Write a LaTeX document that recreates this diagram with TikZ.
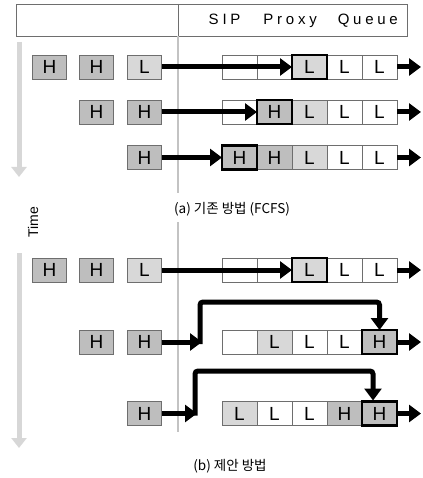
\documentclass[tikz,border=0pt]{standalone}
\usepackage{fontspec}
\setmainfont{Liberation Sans}
\newfontfamily\kr{Noto Sans CJK KR}
\newfontfamily\hdr[LetterSpace=25]{Liberation Sans}
\usetikzlibrary{arrows.meta}
\definecolor{hgray}{RGB}{190,190,190}
\definecolor{lgray}{RGB}{216,216,216}
\definecolor{bgray}{RGB}{110,110,110}
\definecolor{vgray}{RGB}{195,195,195}
\definecolor{tgray}{RGB}{215,215,215}
\tikzset{
  cell/.style={draw=bgray, line width=0.8pt, minimum width=35pt, minimum height=24pt, inner sep=0pt, outer sep=0pt, font=\fontsize{19}{19}\selectfont},
  sbox/.style={cell, minimum width=34pt},
  hf/.style={fill=hgray},
  lf/.style={fill=lgray},
  hot/.style={draw=black, line width=2.6pt},
  flow/.style={line width=5pt, -{Triangle[length=12pt,width=17pt]}},
  detour/.style={line width=5pt, rounded corners=3pt, -{Triangle[length=12pt,width=17pt]}},
  timearr/.style={draw=tgray, line width=5pt, -{Triangle[length=10pt,width=15pt]}},
  divider/.style={draw=vgray, line width=2pt},
  captext/.style={font=\kr\fontsize{13.5}{13.5}\selectfont}
}
\begin{document}
\begin{tikzpicture}[x=1pt,y=-1pt]
\useasboundingbox (0,0) rectangle (422,478);
% header
\draw[draw=bgray, line width=0.8pt] (16,4) rectangle (407,36);
\draw[draw=bgray, line width=0.8pt] (178,4) -- (178,36);
\node[anchor=east, inner sep=0pt, font=\hdr\fontsize{15}{15}\selectfont] (hdr) at (398,21) {SIP\hspace{23pt}Proxy\hspace{21pt}Queue};
% dividers and time arrows
\coordinate (d1) at (178,36); \coordinate (d2) at (178,193);
\coordinate (d3) at (178,222); \coordinate (d4) at (178,432);
\draw[divider] (d1) -- (d2);
\draw[divider] (d3) -- (d4);
\coordinate (t1) at (19,42); \coordinate (t2) at (19,177);
\coordinate (t3) at (19,253); \coordinate (t4) at (19,448);
\draw[timearr] (t1) -- (t2);
\draw[timearr] (t3) -- (t4);
\node[rotate=90, inner sep=0pt, font=\fontsize{14}{14}\selectfont] (time) at (33,222) {Time};

% ---------- (a) row 1
\node[sbox,hf] (a1h1) at (49.5,67) {H};
\node[sbox,hf] (a1h2) at (96.5,67) {H};
\node[sbox,lf] (a1l)  at (144.5,67) {L};
\node[cell] (a1q1) at (239.5,67) {};
\node[cell] (a1q2) at (274.5,67) {};
\node[cell] (a1q4) at (344.5,67) {L};
\node[cell] (a1q5) at (379.5,67) {L};
\node[cell,lf,hot] (a1q3) at (309.5,67) {L};
\coordinate (a1o) at (421,67);
\draw[flow] (a1l.east) -- (a1q3.west);
\draw[flow] (a1q5.east) -- (a1o);
% (a) row 2
\node[sbox,hf] (a2h1) at (96.5,112) {H};
\node[sbox,hf] (a2h2) at (144.5,112) {H};
\node[cell] (a2q1) at (239.5,112) {};
\node[cell,lf] (a2q3) at (309.5,112) {L};
\node[cell] (a2q4) at (344.5,112) {L};
\node[cell] (a2q5) at (379.5,112) {L};
\node[cell,hf,hot] (a2q2) at (274.5,112) {H};
\coordinate (a2o) at (421,112);
\draw[flow] (a2h2.east) -- (a2q2.west);
\draw[flow] (a2q5.east) -- (a2o);
% (a) row 3
\node[sbox,hf] (a3h1) at (144.5,157.5) {H};
\node[cell,hf] (a3q2) at (274.5,157.5) {H};
\node[cell,lf] (a3q3) at (309.5,157.5) {L};
\node[cell] (a3q4) at (344.5,157.5) {L};
\node[cell] (a3q5) at (379.5,157.5) {L};
\node[cell,hf,hot] (a3q1) at (239.5,157.5) {H};
\coordinate (a3o) at (421,157.5);
\draw[flow] (a3h1.east) -- (a3q1.west);
\draw[flow] (a3q5.east) -- (a3o);
\node[captext] (capa) at (232,209) {(a) 기존 방법 (FCFS)};

% ---------- (b) row 1
\node[sbox,hf] (b1h1) at (49.5,270) {H};
\node[sbox,hf] (b1h2) at (96.5,270) {H};
\node[sbox,lf] (b1l)  at (144.5,270) {L};
\node[cell] (b1q1) at (239.5,270) {};
\node[cell] (b1q2) at (274.5,270) {};
\node[cell] (b1q4) at (344.5,270) {L};
\node[cell] (b1q5) at (379.5,270) {L};
\node[cell,lf,hot] (b1q3) at (309.5,270) {L};
\coordinate (b1o) at (421,270);
\draw[flow] (b1l.east) -- (b1q3.west);
\draw[flow] (b1q5.east) -- (b1o);
% (b) row 2
\node[sbox,hf] (b2h1) at (96.5,342) {H};
\node[sbox,hf] (b2h2) at (144.5,342) {H};
\node[cell] (b2q1) at (239.5,342) {};
\node[cell,lf] (b2q2) at (274.5,342) {L};
\node[cell] (b2q3) at (309.5,342) {L};
\node[cell] (b2q4) at (344.5,342) {L};
\node[cell,hf,hot] (b2q5) at (379.5,342) {H};
\coordinate (b2m) at (202,342);
\coordinate (b2c1) at (200,344);
\coordinate (b2c2) at (200,302);
\coordinate (b2c3) at (379.5,302);
\coordinate (b2o) at (421,342);
\draw[detour] (b2c1) -- (b2c2) -- (b2c3) -- (b2q5.north);
\draw[flow] (b2h2.east) -- (b2m);
\draw[flow] (b2q5.east) -- (b2o);
% (b) row 3
\node[sbox,hf] (b3h1) at (144.5,413.5) {H};
\node[cell,lf] (b3q1) at (239.5,413.5) {L};
\node[cell] (b3q2) at (274.5,413.5) {L};
\node[cell] (b3q3) at (309.5,413.5) {L};
\node[cell,hf] (b3q4) at (344.5,413.5) {H};
\node[cell,hf,hot] (b3q5) at (379.5,413.5) {H};
\coordinate (b3m) at (197,413.5);
\coordinate (b3c1) at (195,415.5);
\coordinate (b3c2) at (195,371);
\coordinate (b3c3) at (373,371);
\coordinate (b3e) at (373,400.5);
\coordinate (b3o) at (421,413.5);
\draw[detour] (b3c1) -- (b3c2) -- (b3c3) -- (b3e);
\draw[flow] (b3h1.east) -- (b3m);
\draw[flow] (b3q5.east) -- (b3o);
\node[captext] (capb) at (230,466) {(b) 제안 방법};
\end{tikzpicture}
\end{document}
